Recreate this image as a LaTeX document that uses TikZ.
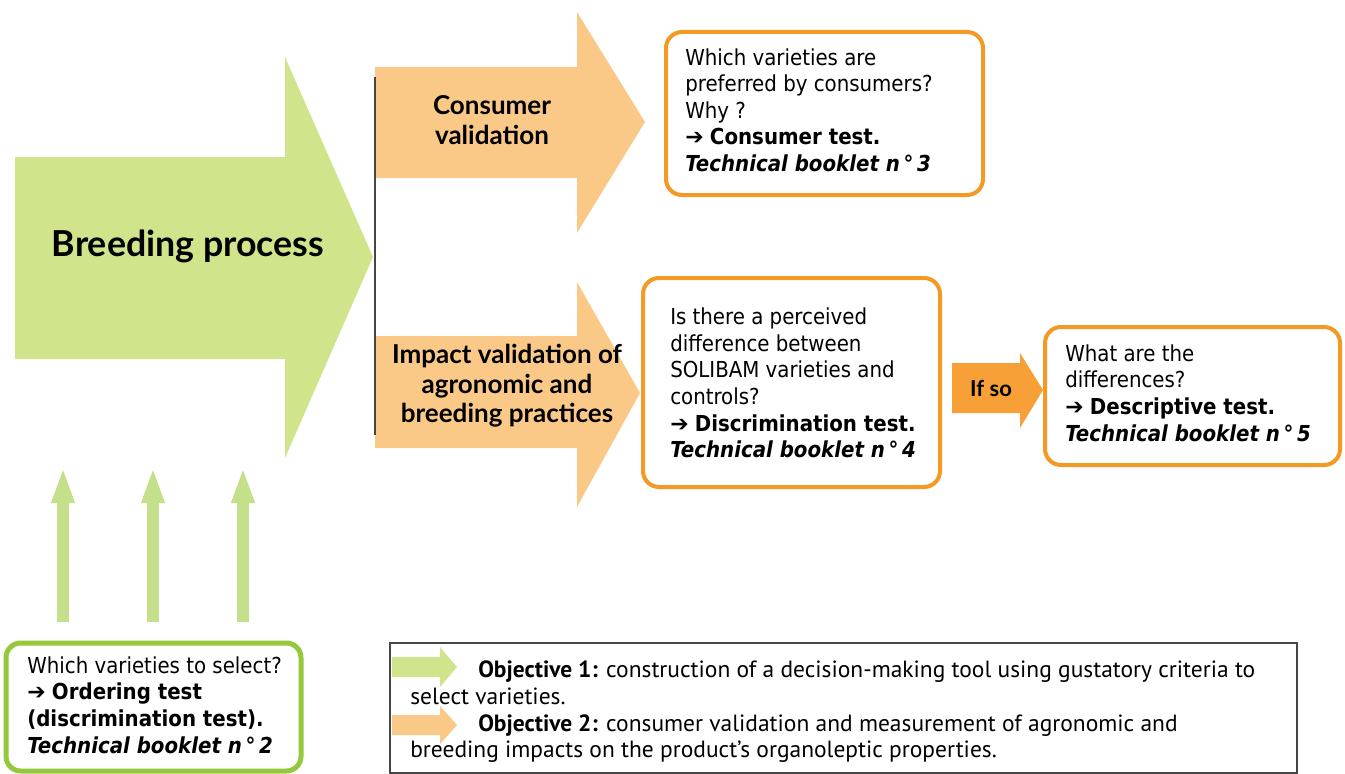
\documentclass[tikz,border=0pt]{standalone}
\usepackage{fontspec}
\setmainfont{DejaVu Sans Condensed}
\newfontfamily\headfont{Lato}
\newfontfamily\legfont{PT Sans}
\newfontfamily\symfont{DejaVu Sans}
\usetikzlibrary{arrows.meta}
\definecolor{bgreen}{RGB}{208,228,140}
\definecolor{sgreen}{RGB}{196,224,138}
\definecolor{lorange}{RGB}{250,201,135}
\definecolor{dorange}{RGB}{246,160,55}
\definecolor{borange}{RGB}{243,153,36}
\definecolor{gborder}{RGB}{150,200,60}
\definecolor{legborder}{RGB}{70,70,70}
\newcommand{\arr}{{\symfont\bfseries ➔}}
\newcommand{\bkit}{\bfseries\itshape}
\begin{document}
\begin{tikzpicture}[x=0.75pt,y=-0.75pt,
  body/.style={font=\fontsize{16.5}{19.9}\selectfont, align=left, inner sep=0pt, text=black},
  head/.style={font=\headfont\bfseries\fontsize{19.5}{22}\selectfont, align=center, inner sep=0pt, text=black},
  legtext/.style={font=\legfont\fontsize{17.6}{20}\selectfont, align=left, inner sep=0pt},
  qbox/.style={draw=borange, line width=3pt, rounded corners=12pt, fill=white, inner sep=0pt},
  gbox/.style={draw=gborder, line width=3.75pt, rounded corners=11pt, fill=white, inner sep=0pt},
  fatarrow/.style={sgreen, line width=9pt, -{Triangle[length=27pt, width=15.75pt]}}
]
\useasboundingbox (0,0) rectangle (1345,774);

% big green arrow
\fill[bgreen] (15,157) -- (285,157) -- (285,57) -- (373,257) -- (285,458) -- (285,359) -- (15,359) -- cycle;
\node[head, font=\headfont\bfseries\fontsize{26.8}{30}\selectfont] (bp) at (188,246) {Breeding process};

% orange arrows
\fill[lorange] (375,67) -- (577,67) -- (577,12) -- (645,122) -- (577,233) -- (577,178) -- (375,178) -- cycle;
\fill[lorange] (375,336) -- (577,336) -- (577,282) -- (640,393) -- (577,507) -- (577,448) -- (375,448) -- cycle;
\draw[legborder, line width=1.5pt] (375,77) -- (375,435);
\node[head] (cv) at (492,120) {Consumer\\validation};
\node[head] (iv) at (507,386) {Impact validation of\\agronomic and\\breeding practices};

% if so arrow
\fill[dorange] (952,363) -- (1020,363) -- (1020,353) -- (1043,390) -- (1020,428) -- (1020,413) -- (952,413) -- cycle;
\node[head, font=\headfont\bfseries\fontsize{16.5}{20}\selectfont] (ifso) at (991,388) {If so};

% question boxes
\node[qbox, minimum width=237.75pt, minimum height=122.25pt] (q1) at (824.5,113.5) {};
\node[body, anchor=west] (q1t) at (685,110) {Which varieties are\\preferred by consumers?\\Why ?\\\arr{} \textbf{Consumer test.}\\{\bkit Technical booklet n\,°\,3}};

\node[qbox, minimum width=222.75pt, minimum height=156.75pt] (q2) at (791.5,382.5) {};
\node[body, anchor=west] (q2t) at (670,383) {Is there a perceived\\difference between\\SOLIBAM varieties and\\controls?\\\arr{} \textbf{Discrimination test.}\\{\bkit Technical booklet n\,°\,4}};

\node[qbox, minimum width=221.25pt, minimum height=103.5pt] (q3) at (1192.5,396) {};
\node[body, anchor=west] (q3t) at (1065,393) {What are the\\differences?\\\arr{} \textbf{Descriptive test.}\\{\bkit Technical booklet n\,°\,5}};

% selection box
\node[gbox, minimum width=221.25pt, minimum height=96pt] (sel) at (153.5,707) {};
\node[body, anchor=west] (selt) at (27,705) {Which varieties to select?\\\arr{} \textbf{Ordering test}\\\textbf{(discrimination test).}\\{\bkit Technical booklet n\,°\,2}};

\coordinate (a1s) at (63,622);  \coordinate (a1e) at (63,467);
\coordinate (a2s) at (153,622); \coordinate (a2e) at (153,467);
\coordinate (a3s) at (243,622); \coordinate (a3e) at (243,467);
\draw[fatarrow] (a1s) -- (a1e);
\draw[fatarrow] (a2s) -- (a2e);
\draw[fatarrow] (a3s) -- (a3e);

% legend
\node[draw=legborder, line width=0.9pt, fill=white, minimum width=680.25pt, minimum height=97.5pt, inner sep=0pt] (leg) at (843.5,708) {};
\fill[bgreen] (392,657) -- (440,657) -- (440,647) -- (457,667) -- (440,687) -- (440,677) -- (392,677) -- cycle;
\fill[lorange] (392,715) -- (440,715) -- (440,706) -- (457,725) -- (440,744) -- (440,735) -- (392,735) -- cycle;
\node[legtext, anchor=west] (legt) at (410,712) {\hspace*{51pt}\textbf{Objective 1:} construction of a decision-making tool using gustatory criteria to\\select varieties.\\\hspace*{51pt}\textbf{Objective 2:} consumer validation and measurement of agronomic and\\breeding impacts on the product’s organoleptic properties.};
\end{tikzpicture}
\end{document}
